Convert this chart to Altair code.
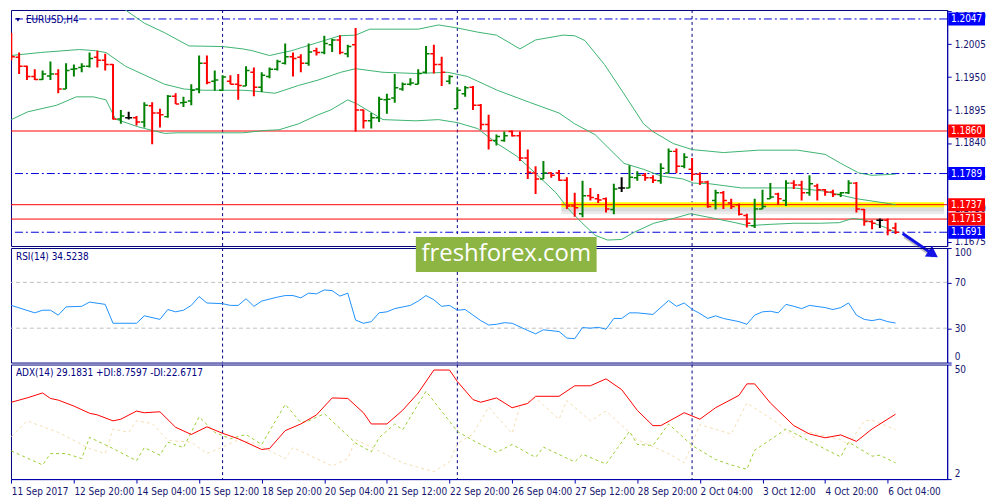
import altair as alt
import pandas as pd

# EURUSD H4, one entry per 4-hour bar starting 11 Sep 2017 12:00
OPEN = [
    1.2020, 1.1983, 1.1968, 1.1951, 1.1946, 1.1952, 1.1955, 1.1930, 1.1963, 1.1966,
    1.1968, 1.1983, 1.1978, 1.1971, 1.1880, 1.1882, 1.1882, 1.1875, 1.1902, 1.1890,
    1.1884, 1.1918, 1.1907, 1.1910, 1.1930, 1.1973, 1.1943, 1.1928, 1.1943, 1.1938,
    1.1935, 1.1958, 1.1933, 1.1951, 1.1963, 1.1973, 1.1984, 1.1983, 1.1973, 1.1994,
    1.1991, 1.2004, 1.2012, 1.1989, 1.2004, 1.1895, 1.1877, 1.1882, 1.1912, 1.1915,
    1.1930, 1.1938, 1.1938, 1.1958, 1.1989, 1.1971, 1.1943, 1.1897, 1.1922, 1.1933,
    1.1903, 1.1871, 1.1844, 1.1844, 1.1859, 1.1852, 1.1815, 1.1790, 1.1780, 1.1790,
    1.1790, 1.1778, 1.1735, 1.1722, 1.1752, 1.1747, 1.1747, 1.1729, 1.1765, 1.1765,
    1.1782, 1.1786, 1.1782, 1.1777, 1.1790, 1.1826, 1.1801, 1.1796, 1.1788, 1.1775,
    1.1744, 1.1757, 1.1740, 1.1737, 1.1719, 1.1702, 1.1730, 1.1747, 1.1755, 1.1744,
    1.1773, 1.1770, 1.1757, 1.1768, 1.1762, 1.1758, 1.1754, 1.1757, 1.1773, 1.1729,
    1.1709, 1.1711, 1.1711, 1.1698,
]
HIGH = [
    1.2024, 1.1991, 1.1969, 1.1963, 1.1961, 1.1976, 1.1963, 1.1973, 1.1971, 1.1973,
    1.1991, 1.1994, 1.1989, 1.1972, 1.1895, 1.1892, 1.1885, 1.1908, 1.1908, 1.1897,
    1.1920, 1.1923, 1.1917, 1.1938, 1.1986, 1.1986, 1.1961, 1.1953, 1.1953, 1.1955,
    1.1968, 1.1966, 1.1958, 1.1966, 1.1979, 1.2006, 1.1991, 1.1988, 1.2006, 1.1999,
    1.2019, 1.2014, 1.2020, 1.2004, 1.2032, 1.1896, 1.1890, 1.1917, 1.1922, 1.1955,
    1.1941, 1.1948, 1.1963, 1.2002, 1.2004, 1.1984, 1.1953, 1.1933, 1.1935, 1.1935,
    1.1905, 1.1887, 1.1854, 1.1859, 1.1861, 1.1859, 1.1829, 1.1801, 1.1810, 1.1791,
    1.1795, 1.1783, 1.1757, 1.1777, 1.1765, 1.1755, 1.1749, 1.1772, 1.1783, 1.1803,
    1.1793, 1.1790, 1.1786, 1.1806, 1.1831, 1.1831, 1.1823, 1.1815, 1.1791, 1.1777,
    1.1762, 1.1760, 1.1747, 1.1739, 1.1722, 1.1747, 1.1762, 1.1773, 1.1757, 1.1778,
    1.1778, 1.1777, 1.1786, 1.1772, 1.1763, 1.1762, 1.1758, 1.1778, 1.1775, 1.1730,
    1.1711, 1.1714, 1.1714, 1.1707,
]
LOW = [
    1.1978, 1.1955, 1.1945, 1.1945, 1.1945, 1.1945, 1.1923, 1.1930, 1.1951, 1.1958,
    1.1966, 1.1966, 1.1961, 1.1879, 1.1872, 1.1879, 1.1869, 1.1866, 1.1838, 1.1866,
    1.1882, 1.1905, 1.1900, 1.1903, 1.1923, 1.1938, 1.1927, 1.1927, 1.1938, 1.1912,
    1.1935, 1.1918, 1.1925, 1.1948, 1.1961, 1.1971, 1.1951, 1.1958, 1.1969, 1.1986,
    1.1988, 1.1992, 1.1988, 1.1983, 1.1859, 1.1864, 1.1864, 1.1875, 1.1889, 1.1907,
    1.1927, 1.1936, 1.1938, 1.1956, 1.1956, 1.1935, 1.1938, 1.1897, 1.1917, 1.1895,
    1.1862, 1.1829, 1.1836, 1.1842, 1.1851, 1.1810, 1.1780, 1.1755, 1.1780, 1.1782,
    1.1777, 1.1730, 1.1717, 1.1716, 1.1744, 1.1740, 1.1724, 1.1721, 1.1758, 1.1765,
    1.1777, 1.1777, 1.1773, 1.1772, 1.1790, 1.1790, 1.1798, 1.1777, 1.1770, 1.1732,
    1.1729, 1.1730, 1.1730, 1.1719, 1.1699, 1.1698, 1.1730, 1.1747, 1.1737, 1.1735,
    1.1763, 1.1744, 1.1752, 1.1744, 1.1752, 1.1750, 1.1750, 1.1755, 1.1724, 1.1702,
    1.1696, 1.1698, 1.1686, 1.1688,
]
CLOSE = [
    1.1984, 1.1968, 1.1951, 1.1946, 1.1955, 1.1955, 1.1930, 1.1961, 1.1964, 1.1968,
    1.1981, 1.1978, 1.1971, 1.1880, 1.1885, 1.1882, 1.1875, 1.1903, 1.1890, 1.1887,
    1.1918, 1.1905, 1.1908, 1.1928, 1.1973, 1.1941, 1.1945, 1.1950, 1.1938, 1.1936,
    1.1961, 1.1933, 1.1953, 1.1963, 1.1976, 1.1984, 1.1981, 1.1973, 1.1992, 1.1991,
    1.2006, 1.2012, 1.1991, 1.2001, 1.1895, 1.1877, 1.1882, 1.1913, 1.1913, 1.1932,
    1.1938, 1.1940, 1.1956, 1.1989, 1.1971, 1.1958, 1.1951, 1.1928, 1.1932, 1.1903,
    1.1871, 1.1844, 1.1851, 1.1852, 1.1852, 1.1815, 1.1791, 1.1780, 1.1790, 1.1786,
    1.1778, 1.1735, 1.1732, 1.1752, 1.1749, 1.1745, 1.1730, 1.1763, 1.1765, 1.1783,
    1.1786, 1.1782, 1.1778, 1.1798, 1.1826, 1.1801, 1.1816, 1.1788, 1.1775, 1.1734,
    1.1757, 1.1744, 1.1734, 1.1721, 1.1706, 1.1730, 1.1734, 1.1750, 1.1747, 1.1773,
    1.1770, 1.1757, 1.1772, 1.1762, 1.1758, 1.1754, 1.1757, 1.1773, 1.1730, 1.1709,
    1.1706, 1.1711, 1.1694, 1.1691,
]

TICK_LABELS = [
    "11 Sep 2017", "12 Sep 20:00", "14 Sep 04:00", "15 Sep 12:00", "18 Sep 20:00",
    "20 Sep 04:00", "21 Sep 12:00", "22 Sep 20:00", "26 Sep 04:00", "27 Sep 12:00",
    "28 Sep 20:00", "2 Oct 04:00", "3 Oct 12:00", "4 Oct 20:00", "6 Oct 04:00",
]
WEEK_STARTS = [27, 57, 87]

# Bollinger bands (bar index, price)
BB_UP_X = [0, 5, 10, 13, 14.8, 17, 19.6, 22.7, 27, 29.6, 30.8, 33, 35.8, 39, 42, 44, 45.8, 52,
           54.6, 57, 59.6, 62, 65, 67, 70.5, 72, 73.3, 75.8, 78.3, 80.8, 82, 84.6, 87, 91,
           95.5, 100.5, 104, 106, 108.3, 110, 113]
BB_UP = [1.2093, 1.2090, 1.2085, 1.2078, 1.2060, 1.2040, 1.2024, 1.2002, 1.2001, 1.1997,
         1.1994, 1.1986, 1.1994, 1.2007, 1.2019, 1.2020, 1.2030, 1.2030, 1.2037, 1.2032,
         1.2025, 1.2020, 1.1997, 1.2012, 1.2020, 1.2019, 1.2011, 1.1971, 1.1922, 1.1872,
         1.1859, 1.1839, 1.1829, 1.1824, 1.1828, 1.1828, 1.1821, 1.1806, 1.1790, 1.1786,
         1.1788]
BB_MID_X = [0, 3.7, 8.7, 10.8, 12.1, 14.6, 17.1, 19.6, 22.1, 24.6, 29.6, 30.8, 33.7, 36.7,
            39.2, 42.1, 44, 47.5, 51.7, 55.8, 58.3, 62.1, 66.2, 70, 72, 74.6, 78.3, 80.8, 83,
            85.8, 87.2, 89.2, 93.3, 97.5, 100, 103.7, 108, 112.1, 113]
BB_MID = [1.1986, 1.1991, 1.1996, 1.1994, 1.1991, 1.1968, 1.1953, 1.1938, 1.1930, 1.1928,
          1.1928, 1.1927, 1.1923, 1.1936, 1.1945, 1.1958, 1.1964, 1.1958, 1.1956, 1.1958,
          1.1951, 1.1928, 1.1908, 1.1890, 1.1872, 1.1854, 1.1806, 1.1796, 1.1785, 1.1780,
          1.1773, 1.1772, 1.1765, 1.1765, 1.1765, 1.1760, 1.1747, 1.1739, 1.1737]
BB_LOW_X = [0, 2.1, 5.8, 8.3, 10.5, 12.1, 13.3, 16.2, 18, 19.6, 21.2, 29.6, 32.5, 34.2, 36.7,
            39.2, 40.8, 43, 44.2, 47.5, 51.7, 54.6, 57, 59.6, 62.1, 64.6, 67.1, 69.6, 71.2,
            72.9, 74.6, 76.2, 78, 79.6, 82.1, 84.6, 86.8, 89.9, 92.5, 94.2, 96.7, 100, 103.3,
            105.8, 107.5, 109.2, 111.7, 113]
BB_LOW = [1.1879, 1.1892, 1.1903, 1.1917, 1.1917, 1.1912, 1.1880, 1.1867, 1.1861, 1.1856,
          1.1857, 1.1857, 1.1861, 1.1862, 1.1872, 1.1887, 1.1895, 1.1912, 1.1905, 1.1879,
          1.1877, 1.1879, 1.1874, 1.1864, 1.1839, 1.1818, 1.1788, 1.1757, 1.1730, 1.1707,
          1.1686, 1.1678, 1.1679, 1.1691, 1.1706, 1.1714, 1.1722, 1.1714, 1.1707, 1.1702,
          1.1704, 1.1706, 1.1706, 1.1707, 1.1714, 1.1711, 1.1699, 1.1691]

LEVELS = [1.2047, 1.1860, 1.1789, 1.1737, 1.1713, 1.1691]
LEVEL_KIND = ["blue", "red", "blue", "red", "red", "blue"]
PRICE_TICKS = [1.2060, 1.2005, 1.1950, 1.1895, 1.1840, 1.1785, 1.1730, 1.1675]
HIGHLIGHT_X = [70.3, 119.2]
HIGHLIGHT_LEVEL = 1.1737
ARROW_X = [113.9, 117.6]
ARROW_Y = [1.1689, 1.1656]

RSI_X = [0, 3, 4, 5, 6, 7, 9, 10, 12, 13, 16, 17, 19, 20, 21, 22, 23, 24, 25, 27, 28, 29, 30,
         31, 32, 34, 35, 36, 37, 38, 39, 40, 41, 42, 43, 44, 45, 46, 47, 48, 49, 51, 52, 53,
         54, 55, 56, 57, 58, 60, 61, 62, 63, 64, 66, 67, 68, 70, 71, 72, 73, 74, 75, 76, 77,
         78, 79, 80, 82, 84, 85, 86, 87, 88, 89, 90, 91, 93, 94, 95, 96, 97, 98, 99, 100, 101,
         102, 104, 105, 106, 107, 108, 109, 110, 111, 112, 113]
RSI = [49.9, 43.4, 45.7, 45.7, 41.4, 48.6, 49.1, 52.8, 50.8, 34.3, 34.3, 40.8, 37.7, 46.3,
       44.3, 45.7, 49.9, 57.6, 52.0, 51.4, 49.9, 49.9, 55.7, 49.1, 53.7, 57.1, 58.5, 58.5,
       56.5, 60.6, 60.0, 63.4, 62.8, 58.0, 60.6, 37.1, 34.3, 35.7, 43.4, 44.3, 47.1, 49.9,
       53.7, 58.5, 54.8, 49.1, 49.9, 45.7, 46.3, 36.6, 32.8, 33.4, 34.8, 34.3, 28.0, 25.1,
       28.6, 27.1, 21.4, 20.8, 30.6, 30.0, 30.8, 29.1, 38.5, 38.5, 43.4, 43.4, 42.0, 54.2,
       49.1, 52.0, 46.5, 42.8, 38.5, 40.8, 38.5, 35.7, 33.4, 41.4, 44.3, 44.8, 43.4, 50.8,
       49.1, 47.1, 49.9, 48.0, 46.3, 48.0, 52.0, 41.4, 37.7, 36.6, 37.9, 35.7, 34.5]

ADX_X = [0, 2, 4, 5, 6, 8, 10, 11, 13, 14, 16, 17, 19, 21, 23, 25, 27, 29, 32, 33, 35, 37, 39,
         41, 43, 45, 46, 48, 50, 52, 54, 56, 57, 59, 60, 62, 64, 66, 67, 70, 72, 74, 76, 78,
         80, 82, 83, 86, 88, 90, 93, 94, 95, 97, 100, 102, 104, 106, 108, 110, 113]
ADX = [34.2, 36.0, 38.1, 35.8, 35.1, 32.6, 29.6, 28.9, 26.4, 27.1, 30.5, 29.8, 30.2, 23.7,
       20.7, 23.9, 21.2, 18.9, 14.4, 14.8, 22.3, 25.1, 28.9, 36.0, 35.8, 29.8, 25.1, 25.1,
       30.8, 38.1, 47.7, 47.7, 42.9, 35.3, 34.2, 36.0, 31.9, 33.7, 36.7, 36.7, 41.1, 41.1,
       44.0, 39.5, 30.8, 24.4, 24.4, 29.8, 27.1, 31.9, 37.1, 41.9, 41.9, 33.9, 24.4, 20.9,
       19.3, 20.5, 17.8, 23.0, 29.2]
PDI_X = [0, 4, 5, 7, 9, 10, 13, 16, 17, 19, 20, 22, 24, 26, 28, 30, 32, 35, 37, 38, 40, 44,
         46, 47, 49, 50, 53, 57, 59, 62, 64, 67, 68, 72, 73, 76, 79, 80, 82, 84, 87, 90, 92,
         94, 95, 98, 99, 102, 106, 107, 110, 111, 113]
PDI = [13.8, 7.9, 12.7, 12.7, 10.6, 19.5, 14.8, 9.7, 15.2, 12.0, 17.5, 15.2, 28.1, 21.6,
       18.9, 20.7, 16.5, 33.3, 25.7, 26.4, 29.4, 17.1, 13.4, 19.3, 25.1, 22.6, 38.8, 22.0,
       18.2, 13.2, 16.5, 11.1, 15.4, 9.2, 12.4, 8.3, 22.0, 16.5, 16.1, 25.1, 16.1, 10.2, 7.9,
       6.1, 14.1, 20.7, 23.0, 17.9, 11.3, 17.5, 11.6, 12.0, 8.8]
MDI_X = [0, 2, 6, 10, 12, 13, 15, 16, 18, 20, 23, 25, 27, 29, 31, 35, 36, 41, 43, 44, 46, 50,
         54, 56, 57, 59, 61, 62, 64, 65, 67, 70, 71, 74, 76, 80, 84, 86, 88, 92, 94, 98, 100,
         102, 106, 107, 109, 110, 113]
MDI = [19.8, 26.4, 21.6, 14.8, 12.7, 23.0, 21.6, 26.4, 25.3, 18.2, 17.5, 12.7, 15.4, 18.5,
       17.1, 10.6, 15.2, 7.5, 10.6, 18.5, 15.4, 8.8, 5.1, 9.2, 16.9, 20.9, 32.2, 28.5, 21.2,
       32.6, 36.0, 27.1, 34.9, 26.4, 30.5, 18.5, 12.7, 8.8, 24.8, 20.9, 33.9, 25.3, 19.5,
       21.6, 18.5, 16.5, 26.4, 26.7, 22.7]

W = 940
H_PRICE = 237
H_IND = 115

FONT = "Tahoma, 'DejaVu Sans Condensed', 'DejaVu Sans', sans-serif"
TEXT = "#14146e"
FRAME = "#000080"
AXIS = "#0000b0"
GREEN = "#008000"
RED = "#ff0000"
BB_GREEN = "#3cb371"
LINE_BLUE = "#0000dd"
BOX_BLUE = "#0000ff"

X_SCALE = alt.Scale(domain=[-0.04, 119.6], nice=False, zero=False)
PRICE_SCALE = alt.Scale(domain=[1.1668, 1.2062], nice=False, zero=False)
RSI_SCALE = alt.Scale(domain=[0, 100], nice=False)
ADX_SCALE = alt.Scale(domain=[2, 50], nice=False, zero=False)

X_AXIS = alt.Axis(
    values=list(range(0, 113, 8)),
    labelExpr="[" + ",".join(f"'{t}'" for t in TICK_LABELS) + "][round(datum.value / 8)]",
    labelAlign="left", labelPadding=3, title=None,
)
PRICE_AXIS = alt.Axis(
    orient="right", values=PRICE_TICKS, format=".4f", title=None,
    labelBaseline={"condition": {"test": "datum.value > 1.2055", "value": "top"}, "value": "middle"},
)
RSI_AXIS = alt.Axis(
    orient="right", values=[0, 30, 70, 100], title=None,
    labelBaseline={"condition": {"test": "datum.value == 100", "value": "top"}, "value": "middle"},
    labelOffset={"condition": {"test": "datum.value == 0", "value": -6}, "value": 0},
)
ADX_AXIS = alt.Axis(
    orient="right", values=[2, 50], title=None,
    labelBaseline={"condition": {"test": "datum.value == 50", "value": "top"}, "value": "middle"},
    labelOffset={"condition": {"test": "datum.value == 2", "value": -6}, "value": 0},
)


def px(field, axis=None):
    return alt.X(field, type="quantitative", scale=X_SCALE, axis=axis)


def py(field):
    return alt.Y(field, type="quantitative", scale=PRICE_SCALE, axis=PRICE_AXIS)


def separators(axis=None):
    return (
        alt.Chart(pd.DataFrame({"i": WEEK_STARTS}))
        .mark_rule(color=FRAME, strokeDash=[3, 3], strokeWidth=1)
        .encode(x=px("i", axis))
    )


def series(xs, ys):
    return pd.DataFrame({"i": xs, "v": ys})


def chart_price():
    bars = pd.DataFrame({"i": range(len(OPEN)), "open": OPEN, "high": HIGH, "low": LOW, "close": CLOSE})
    bars["dir"] = ["up" if c > o else "down" if c < o else "flat" for o, c in zip(OPEN, CLOSE)]
    color = alt.Color("dir:N", scale=alt.Scale(domain=["up", "down", "flat"], range=[GREEN, RED, "#000000"]),
                      legend=None)

    levels = pd.DataFrame({"level": LEVELS, "kind": LEVEL_KIND, "label": [f"{v:.4f}" for v in LEVELS]})
    hl = pd.DataFrame({"x0": [HIGHLIGHT_X[0]], "x1": [HIGHLIGHT_X[1]], "level": [HIGHLIGHT_LEVEL]})
    bands = pd.concat([
        series(BB_UP_X, BB_UP).assign(band="upper"),
        series(BB_MID_X, BB_MID).assign(band="middle"),
        series(BB_LOW_X, BB_LOW).assign(band="lower"),
    ])
    arrow = pd.DataFrame({"i": ARROW_X, "v": ARROW_Y})

    base_levels = alt.Chart(levels)
    layers = [
        separators(),
        alt.Chart(hl).mark_rule(color="#808080", opacity=0.16, strokeWidth=9, yOffset=5, clip=True)
        .encode(x=px("x0"), x2="x1", y=py("level")),
        alt.Chart(hl).mark_rule(color="#808080", opacity=0.16, strokeWidth=5, yOffset=4, clip=True)
        .encode(x=px("x0"), x2="x1", y=py("level")),
        alt.Chart(hl).mark_rule(color="#ffff00", strokeWidth=5, clip=True)
        .encode(x=px("x0"), x2="x1", y=py("level")),
        base_levels.transform_filter("datum.kind == 'red'").mark_rule(color=RED, strokeWidth=1)
        .encode(y=py("level")),
        base_levels.transform_filter("datum.kind == 'blue'")
        .mark_rule(color=LINE_BLUE, strokeWidth=1, strokeDash=[8, 3, 2, 3])
        .encode(y=py("level")),
        alt.Chart(bands).mark_line(color=BB_GREEN, strokeWidth=1, clip=True)
        .encode(x=px("i"), y=py("v"), detail="band:N"),
        alt.Chart(bars).mark_rule(strokeWidth=2, clip=True)
        .encode(x=px("i"), y=py("low"), y2="high", color=color),
        alt.Chart(bars).transform_calculate(xo="datum.i - 0.45").mark_rule(strokeWidth=1.5, clip=True)
        .encode(x=px("xo"), x2="i", y=py("open"), color=color),
        alt.Chart(bars).transform_calculate(xc="datum.i + 0.45").mark_rule(strokeWidth=1.5, clip=True)
        .encode(x=px("i"), x2="xc", y=py("close"), color=color),
        base_levels.transform_filter("datum.kind == 'red'").mark_rule(color=RED, strokeWidth=13, clip=False)
        .encode(x=alt.value(W + 1), x2=alt.value(W + 38), y=py("level")),
        base_levels.transform_filter("datum.kind == 'blue'").mark_rule(color=BOX_BLUE, strokeWidth=13, clip=False)
        .encode(x=alt.value(W + 1), x2=alt.value(W + 38), y=py("level")),
        base_levels.mark_text(color="white", font=FONT, fontSize=10, align="center", baseline="middle",
                              clip=False)
        .encode(x=alt.value(W + 19.5), y=py("level"), text="label:N"),
        alt.Chart(arrow).mark_line(color="#555555", opacity=0.35, strokeWidth=4, xOffset=2, yOffset=3,
                                   clip=False)
        .encode(x=px("i"), y=py("v")),
        alt.Chart(arrow).mark_line(color="#1414e6", strokeWidth=3, clip=False)
        .encode(x=px("i"), y=py("v")),
        alt.Chart(arrow.tail(1)).mark_point(shape="triangle", filled=True, size=170, angle=123,
                                            color="#1414e6", opacity=1, clip=False)
        .encode(x=px("i"), y=py("v")),
        alt.Chart(pd.DataFrame({"t": ["EURUSD,H4"]}))
        .mark_text(align="left", baseline="middle", font=FONT, fontSize=10, color=FRAME)
        .encode(x=alt.value(15), y=alt.value(10), text="t:N"),
        alt.Chart(pd.DataFrame({"t": ["EURUSD,H4"]}))
        .mark_point(shape="triangle-down", filled=True, size=18, color=FRAME, opacity=1)
        .encode(x=alt.value(7), y=alt.value(10)),
    ]
    return alt.layer(*layers).properties(width=W, height=H_PRICE)


def chart_rsi():
    ry = alt.Y("v:Q", scale=RSI_SCALE, axis=RSI_AXIS)
    mark = pd.DataFrame({"x0": [51.7], "x1": [74.8], "y0": [109.6], "y1": [79.1],
                         "xm": [63.25], "ym": [94.4], "t": ["freshforex.com"]})
    layers = [
        separators(),
        alt.Chart(pd.DataFrame({"v": [70, 30]})).mark_rule(color="#c0c0c0", strokeDash=[4, 3])
        .encode(y=ry),
        alt.Chart(series(RSI_X, RSI)).mark_line(color="#1e90ff", strokeWidth=1)
        .encode(x=px("i"), y=ry),
        alt.Chart(pd.DataFrame({"t": ["RSI(14) 34.5238"]}))
        .mark_text(align="left", baseline="middle", font=FONT, fontSize=10, color=FRAME)
        .encode(x=alt.value(5), y=alt.value(9), text="t:N"),
        alt.Chart(mark).mark_rect(color="#8db543", clip=False)
        .encode(x=px("x0"), x2="x1", y=alt.Y("y0:Q", scale=RSI_SCALE, axis=RSI_AXIS), y2="y1"),
        alt.Chart(mark).mark_text(color="white", font="Open Sans", fontSize=24, align="center",
                                  baseline="middle", clip=False)
        .encode(x=px("xm"), y=alt.Y("ym:Q", scale=RSI_SCALE, axis=RSI_AXIS), text="t:N"),
    ]
    return alt.layer(*layers).properties(width=W, height=H_IND)


def chart_adx():
    ay = alt.Y("v:Q", scale=ADX_SCALE, axis=ADX_AXIS)
    layers = [
        separators(X_AXIS),
        alt.Chart(series(MDI_X, MDI)).mark_line(color="#f5deb3", strokeWidth=1, strokeDash=[3, 3])
        .encode(x=px("i", X_AXIS), y=ay),
        alt.Chart(series(PDI_X, PDI)).mark_line(color="#9acd32", strokeWidth=1, strokeDash=[3, 3])
        .encode(x=px("i", X_AXIS), y=ay),
        alt.Chart(series(ADX_X, ADX)).mark_line(color=RED, strokeWidth=1)
        .encode(x=px("i", X_AXIS), y=ay),
        alt.Chart(pd.DataFrame({"t": ["ADX(14) 29.1831 +DI:8.7597 -DI:22.6717"]}))
        .mark_text(align="left", baseline="middle", font=FONT, fontSize=10, color=FRAME)
        .encode(x=alt.value(5), y=alt.value(9), text="t:N"),
    ]
    return alt.layer(*layers).properties(width=W, height=H_IND)


def build():
    chart = (
        alt.vconcat(chart_price(), chart_rsi(), chart_adx(), spacing=2, bounds="flush")
        .properties(padding=0, background="white")
        .configure_view(stroke=FRAME, strokeWidth=1)
        .configure_axis(
            labelFont=FONT, labelFontSize=10, labelColor=TEXT, domainColor=AXIS, tickColor=AXIS,
            tickSize=4, grid=False, labelPadding=3,
        )
    )
    chart.save("out.html", embed_options={"renderer": "svg", "actions": False})


if __name__ == "__main__":
    build()
